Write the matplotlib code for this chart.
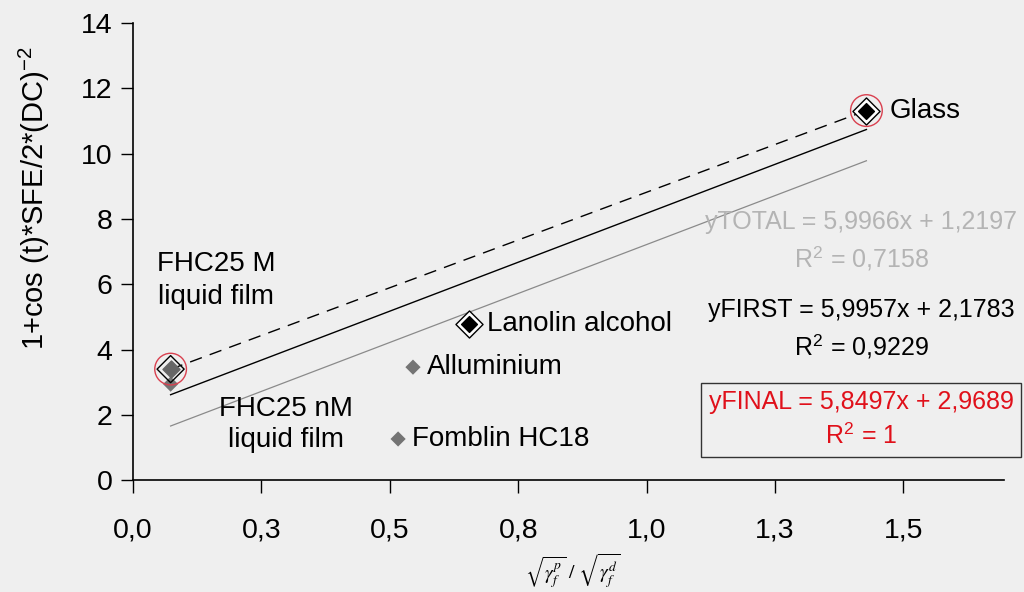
import numpy as np
import matplotlib
matplotlib.use("Agg")
import matplotlib.pyplot as plt

plt.rcParams['font.family'] = ['Liberation Sans', 'DejaVu Sans']
plt.rcParams['mathtext.fontset'] = 'stix'

# samples: sqrt(gp)/sqrt(gd) vs 1+cos(t)*SFE/2*(DC)^-2
names = ["FHC25 M", "FHC25 nM", "Alluminium", "Fomblin HC18", "Lanolin alcohol", "Glass"]
xs = [0.073, 0.073, 0.545, 0.516, 0.654, 1.428]
ys = [3.40, 2.94, 3.46, 1.26, 4.78, 11.32]

# fitted lines: slope, intercept, R2
fit_names = ["yTOTAL", "yFIRST", "yFINAL"]
slopes = [5.9966, 5.9957, 5.8497]
intercepts = [1.2197, 2.1783, 2.9689]
r2 = ["0,7158", "0,9229", "1"]

xtick_vals = [0.0, 0.25, 0.5, 0.75, 1.0, 1.25, 1.5]
xtick_labels = ["0,0", "0,3", "0,5", "0,8", "1,0", "1,3", "1,5"]

bg = '#efefef'
fig = plt.figure(figsize=(10.24, 5.92), dpi=100, facecolor=bg)
ax = fig.add_axes([0.130, 0.189, 0.850, 0.772], facecolor=bg)

xl = np.array([min(xs), max(xs)])
styles = [dict(color='#8a8a8a', lw=0.9, ls='-'),
          dict(color='black', lw=1.0, ls='-'),
          dict(color='black', lw=1.0, ls=(0, (9, 6)))]
for m, b, st in zip(slopes, intercepts, styles):
    ax.plot(xl, m * xl + b, **st, zorder=2)

# plain grey diamonds
grey = [1, 2, 3]
ax.scatter([xs[i] for i in grey], [ys[i] for i in grey], marker='D', s=60,
           color='#747474', edgecolor='none', zorder=3)

# highlighted points: outlined diamonds
ax.scatter([xs[0]], [ys[0]], marker='D', s=190, facecolor='none',
           edgecolor='black', lw=1.0, zorder=3)
ax.scatter([xs[0]], [ys[0]], marker='D', s=75, color='#666666', zorder=4)
for i in [4, 5]:
    ax.scatter([xs[i]], [ys[i]], marker='D', s=190, facecolor='white',
               edgecolor='black', lw=1.0, zorder=3)
    ax.scatter([xs[i]], [ys[i]], marker='D', s=65, color='black', zorder=4)

# points used for the final fit
ax.scatter([xs[0], xs[5]], [ys[0], ys[5]], marker='o', s=520, facecolor='none',
           edgecolor='#d9404f', lw=1.0, zorder=5)

fs = 20
ax.text(xs[5] + 0.045, ys[5], names[5], fontsize=fs, va='center', ha='left')
ax.text(xs[4] + 0.035, ys[4], names[4], fontsize=fs, va='center', ha='left')
ax.text(xs[2] + 0.027, ys[2], names[2], fontsize=fs, va='center', ha='left')
ax.text(xs[3] + 0.027, ys[3], names[3], fontsize=fs, va='center', ha='left')
ax.text(0.161, 6.13, names[0] + "\nliquid film", fontsize=fs, ha='center',
        va='center', linespacing=1.35)
ax.text(0.298, 1.69, names[1] + "\nliquid film", fontsize=fs, ha='center',
        va='center', linespacing=1.25)

eq_fs = 18
eq_colors = ['#b4b4b4', 'black', '#e0101a']
eq_y = [7.31, 4.61, 1.85]
for n, m, b, r, c, yy in zip(fit_names, slopes, intercepts, r2, eq_colors, eq_y):
    s = "%s = %sx + %s\nR$^{\\mathregular{2}}$ = %s" % (
        n, f"{m:.4f}".replace('.', ','), f"{b:.4f}".replace('.', ','), r)
    kw = {}
    if n == "yFINAL":
        kw['bbox'] = dict(boxstyle='square,pad=0.3', facecolor='none',
                          edgecolor='#333333', lw=1.0)
    ax.text(1.418, yy, s, fontsize=eq_fs, color=c, ha='center', va='center',
            linespacing=1.45, **kw)

ax.set_xlim(0, 1.695)
ax.set_ylim(0, 14)
ax.set_xticks(xtick_vals)
ax.set_xticklabels(xtick_labels)
ax.set_yticks(range(0, 15, 2))
ax.tick_params(axis='both', labelsize=20.5, length=9, width=1.0, direction='out',
               color='black')
ax.tick_params(axis='x', pad=18)
ax.tick_params(axis='y', pad=6)
for sp in ['top', 'right']:
    ax.spines[sp].set_visible(False)
for sp in ['left', 'bottom']:
    ax.spines[sp].set_linewidth(1.2)

ax.set_ylabel("1+cos (t)*SFE/2*(DC)$^{\\mathregular{-2}}$", fontsize=21)
ax.yaxis.set_label_coords(-0.093, 0.617)
fig.text(0.56, 0.036, r"$\sqrt{\gamma_f^p}\ /\ \sqrt{\gamma_f^d}$", fontsize=14,
         ha='center', va='center')

fig.savefig("out.png", dpi=100, facecolor=bg)
